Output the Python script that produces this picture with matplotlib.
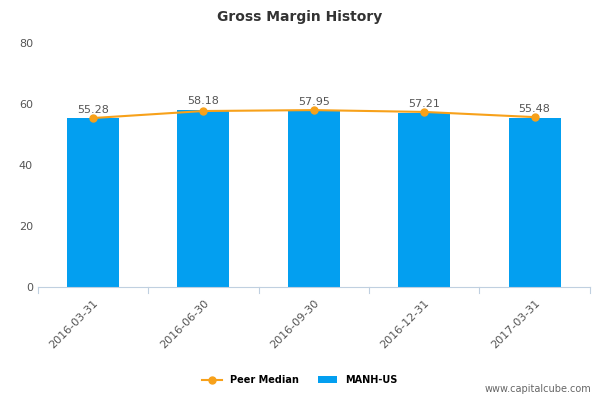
import matplotlib
matplotlib.use("Agg")
import matplotlib.pyplot as plt
import numpy as np

dates = ["2016-03-31", "2016-06-30", "2016-09-30", "2016-12-31", "2017-03-31"]
manh = [55.28, 58.18, 57.95, 57.21, 55.48]
peer = [55.4, 57.7, 58.0, 57.4, 55.7]

fig = plt.figure(figsize=(6, 4), dpi=100)
ax = fig.add_axes([0.063, 0.2825, 0.92, 0.61])
x = np.arange(len(dates))
ax.bar(x, manh, width=0.47, color="#039ff0", zorder=2, label="MANH-US")
ax.plot(x, peer, color="#f7a11a", lw=1.5, marker="o", ms=5, zorder=3, label="Peer Median")
for xi, v in zip(x, manh):
    ax.text(xi, v + 1.2, f"{v:.2f}", ha="center", va="bottom", fontsize=8, color="#555555")

ax.set_xlim(-0.5, len(dates) - 0.5)
ax.set_ylim(0, 80)
ax.set_yticks([0, 20, 40, 60, 80])
ax.set_xticks(x)
ax.set_xticklabels(dates, rotation=45, ha="right", rotation_mode="anchor")
ax.tick_params(axis="y", length=0, labelsize=8, colors="#555555")
ax.tick_params(axis="x", length=0, labelsize=8, colors="#555555", pad=8)
for b in np.arange(-0.5, len(dates), 1.0):
    ax.plot([b, b], [0, -2], color="#c0d0e0", lw=0.8, clip_on=False)
for s in ["top", "right", "left"]:
    ax.spines[s].set_visible(False)
ax.spines["bottom"].set_color("#c0d0e0")

fig.suptitle("Gross Margin History", x=0.5, y=0.975, fontsize=10, fontweight="bold", color="#333333")
fig.legend(loc="lower center", bbox_to_anchor=(0.5, 0.015), ncol=2, frameon=False,
           fontsize=7, prop={"weight": "bold", "size": 7}, handlelength=2)
fig.text(0.985, 0.02, "www.capitalcube.com", ha="right", fontsize=7, color="#666666")
fig.savefig("out.png", dpi=100, facecolor="white")
